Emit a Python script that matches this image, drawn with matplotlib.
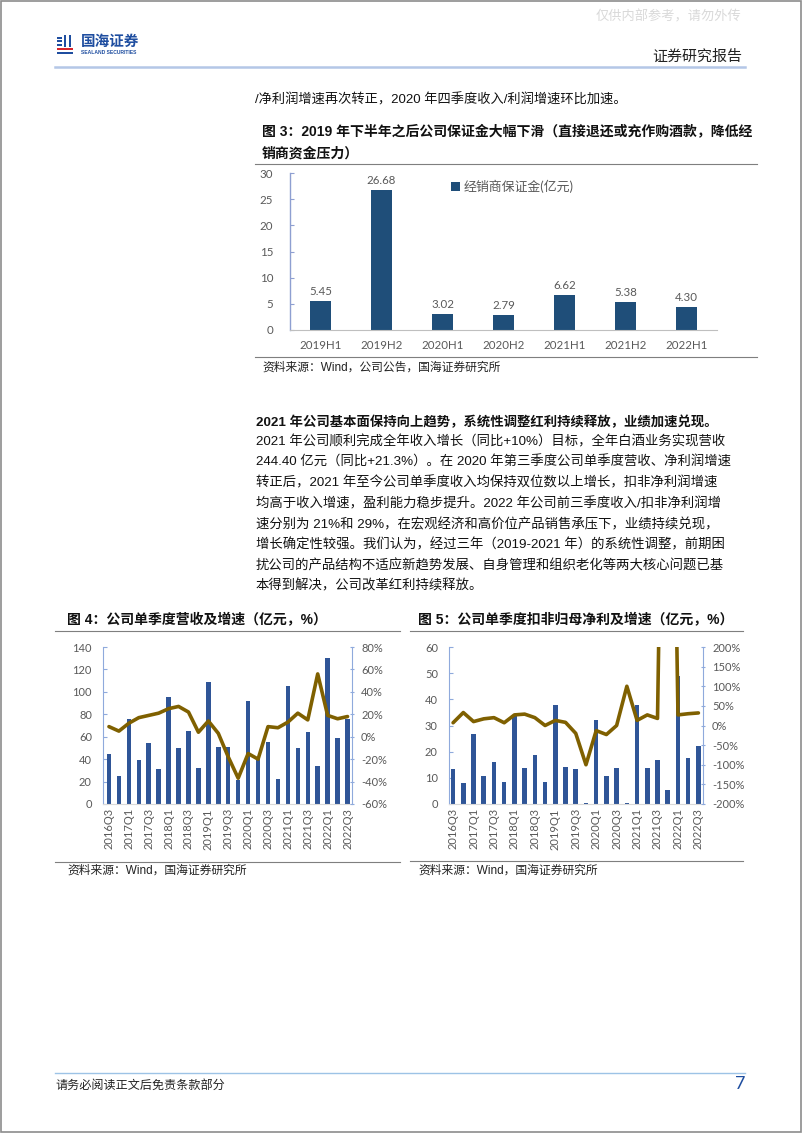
import numpy as np
import matplotlib
matplotlib.use("Agg")
import matplotlib.pyplot as plt
from matplotlib.lines import Line2D
from matplotlib.patches import Rectangle
from matplotlib.ticker import FuncFormatter

# ---------------- 数据 ----------------
# 图3 经销商保证金
half_years = ['2019H1', '2019H2', '2020H1', '2020H2', '2021H1', '2021H2', '2022H1']
deposit = [5.45, 26.68, 3.02, 2.79, 6.62, 5.38, 4.30]

# 图4/图5 季度
quarters = ['2016Q3', '2016Q4',
            '2017Q1', '2017Q2', '2017Q3', '2017Q4',
            '2018Q1', '2018Q2', '2018Q3', '2018Q4',
            '2019Q1', '2019Q2', '2019Q3', '2019Q4',
            '2020Q1', '2020Q2', '2020Q3', '2020Q4',
            '2021Q1', '2021Q2', '2021Q3', '2021Q4',
            '2022Q1', '2022Q2', '2022Q3']

revenue = [45, 25, 76, 39, 54, 31, 95, 50, 65, 32, 109, 51, 51, 21,
           92, 40, 55, 22, 105, 50, 64, 34, 130, 59, 76]
revenue_yoy = [9, 5, 12, 17, 19, 21, 25, 27, 22, 4, 14, 3, -18, -37,
               -15, -20, 9, 8, 13, 21, 15, 56, 19, 16, 18]

profit = [13.3, 8.0, 26.6, 10.8, 16.2, 8.4, 33.5, 13.8, 18.6, 8.4, 38.0, 14.3, 13.5, 0.3,
          32.2, 10.8, 13.8, 0.3, 38.0, 13.8, 17.0, 5.5, 49.0, 17.6, 22.2]
profit_yoy = [7, 33, 10, 17, 20, 7, 27, 29, 20, 0, 13, 8, -20, -100,
              -13, -23, 0, 100, 13, 27, 18, 1700, 27, 30, 32]

body_lines = [
    "2021 年公司顺利完成全年收入增长（同比+10%）目标，全年白酒业务实现营收",
    "244.40 亿元（同比+21.3%）。在 2020 年第三季度公司单季度营收、净利润增速",
    "转正后，2021 年至今公司单季度收入均保持双位数以上增长，扣非净利润增速",
    "均高于收入增速，盈利能力稳步提升。2022 年公司前三季度收入/扣非净利润增",
    "速分别为 21%和 29%，在宏观经济和高价位产品销售承压下，业绩持续兑现，",
    "增长确定性较强。我们认为，经过三年（2019-2021 年）的系统性调整，前期困",
    "扰公司的产品结构不适应新趋势发展、自身管理和组织老化等两大核心问题已基",
    "本得到解决，公司改革红利持续释放。",
]

# ---------------- 样式 ----------------
W, H = 802, 1133
TXT = ['Liberation Sans', 'Noto Sans CJK SC', 'DejaVu Sans']
NUM = ['Lato', 'Noto Sans CJK SC', 'DejaVu Sans']
plt.rcParams['font.family'] = TXT
plt.rcParams['axes.unicode_minus'] = False

BAR3 = '#1F4E79'
BAR = '#2F5597'
LINE = '#7F6000'
SPINE = '#8FAADC'
GRAYTXT = '#595959'

fig = plt.figure(figsize=(W / 100, H / 100), dpi=100)


def T(x, y, s, **kw):
    kw.setdefault('va', 'center')
    kw.setdefault('family', TXT)
    fig.text(x / W, 1 - y / H, s, **kw)


def HL(x0, x1, y, color='#7f7f7f', lw=0.8):
    fig.add_artist(Line2D([x0 / W, x1 / W], [1 - y / H, 1 - y / H],
                          transform=fig.transFigure, color=color, lw=lw))


def box(x0, y0, x1, y1):
    return [x0 / W, 1 - y1 / H, (x1 - x0) / W, (y1 - y0) / H]


# 页面边框
fig.add_artist(Rectangle((0.001, 0.001), 0.998, 0.998, transform=fig.transFigure,
                         fill=False, edgecolor='#8c8c8c', lw=1.2))

# ---------------- 页眉 ----------------
T(668, 17, "仅供内部参考，请勿外传", fontsize=9.5, color='#d9d9d9', ha='center')
# logo 图标
logo_blue = '#1F4EA0'
for yy in (37, 40.5, 44):
    fig.add_artist(Rectangle((57 / W, 1 - (yy + 1.6) / H), 5 / W, 1.6 / H,
                             transform=fig.transFigure, color=logo_blue, lw=0))
for xx in (64, 68.5):
    fig.add_artist(Rectangle((xx / W, 1 - 47 / H), 2 / W, 12 / H,
                             transform=fig.transFigure, color=logo_blue, lw=0))
fig.add_artist(Rectangle((57 / W, 1 - 50 / H), 16 / W, 2 / H,
                         transform=fig.transFigure, color='#D7262D', lw=0))
fig.add_artist(Rectangle((57 / W, 1 - 53.5 / H), 16 / W, 2 / H,
                         transform=fig.transFigure, color=logo_blue, lw=0))
T(81, 42, "国海证券", fontsize=10.5, color=logo_blue, fontweight='bold')
T(81, 53, "SEALAND SECURITIES", fontsize=3.6, color=logo_blue, fontweight='bold')
T(742, 57, "证券研究报告", fontsize=10.8, color='#222222', ha='right')
HL(55, 745, 67, color='#B4C7E7', lw=1.8)

T(255, 100, "/净利润增速再次转正，2020 年四季度收入/利润增速环比加速。", fontsize=9.5, color='#111111')

# ---------------- 图3 ----------------
T(262, 131, "图 3：2019 年下半年之后公司保证金大幅下滑（直接退还或充作购酒款，降低经",
  fontsize=10, fontweight='bold', color='#111111')
T(262, 154, "销商资金压力）", fontsize=10, fontweight='bold', color='#111111')
HL(255, 757, 164)

ax3 = fig.add_axes(box(290, 173, 717, 330))
x3 = np.arange(len(half_years))
ax3.bar(x3, deposit, width=0.33, color=BAR3, label='经销商保证金(亿元)')
for xi, v in zip(x3, deposit):
    ax3.annotate(f"{v:.2f}", (xi, v), xytext=(0, 3), textcoords='offset points',
                 ha='center', va='bottom', fontsize=8.3, color=GRAYTXT, family=NUM)
ax3.set_xlim(-0.5, 6.5)
ax3.set_ylim(0, 30)
ax3.set_yticks(range(0, 31, 5))
ax3.set_xticks(x3)
ax3.set_xticklabels(half_years)
for s in ('top', 'right'):
    ax3.spines[s].set_visible(False)
ax3.spines['left'].set_color('#8E9FD1')
ax3.spines['left'].set_linewidth(1.0)
ax3.spines['bottom'].set_color('#bfbfbf')
ax3.tick_params(axis='x', length=0, pad=7, labelsize=8.3, labelcolor=GRAYTXT)
ax3.tick_params(axis='y', length=3, direction='in', color='#8E9FD1', pad=12,
                labelsize=8.3, labelcolor=GRAYTXT)
for lab in ax3.get_xticklabels() + ax3.get_yticklabels():
    lab.set_family(NUM)
ax3.legend(loc='center left', bbox_to_anchor=(0.35, 0.915), frameon=False,
           handlelength=0.7, handleheight=0.7, handletextpad=0.3,
           prop={'family': NUM, 'size': 9.3}, labelcolor=GRAYTXT)

HL(255, 757, 357)
T(262, 368, "资料来源：Wind，公司公告，国海证券研究所", fontsize=8.5, color='#222222')

# ---------------- 正文 ----------------
T(256, 422, "2021 年公司基本面保持向上趋势，系统性调整红利持续释放，业绩加速兑现。",
  fontsize=9.6, fontweight='bold', color='#111111')
for i, line in enumerate(body_lines):
    T(256, 442 + i * 20.6, line, fontsize=9.6, color='#111111')


# ---------------- 图4 / 图5 ----------------
def quarter_chart(pos, bars, yoy, ylim, yticks, y2lim, y2ticks, xlim):
    ax = fig.add_axes(pos)
    xq = np.arange(len(quarters))
    ax.bar(xq, bars, width=0.45, color=BAR, zorder=2)
    ax.set_xlim(*xlim)
    ax.set_ylim(*ylim)
    ax.set_yticks(yticks)
    ax.set_xticks(xq[::2])
    ax.set_xticklabels(quarters[::2], rotation=90)
    ax.spines['top'].set_visible(False)
    ax.spines['right'].set_visible(False)
    ax.spines['left'].set_color(SPINE)
    ax.spines['bottom'].set_color('#d9d9d9')
    ax.tick_params(axis='x', length=0, pad=3, labelsize=8, labelcolor=GRAYTXT)
    ax.tick_params(axis='y', length=3, direction='in', color=SPINE, pad=8,
                   labelsize=8, labelcolor=GRAYTXT)

    ax2 = ax.twinx()
    ax2.plot(xq, yoy, color=LINE, lw=2.6, solid_joinstyle='round',
             solid_capstyle='round', zorder=3)
    ax2.set_ylim(*y2lim)
    ax2.set_yticks(y2ticks)
    ax2.yaxis.set_major_formatter(FuncFormatter(lambda v, p: f"{v:.0f}%"))
    for s in ('top', 'left', 'bottom'):
        ax2.spines[s].set_visible(False)
    ax2.spines['right'].set_color(SPINE)
    ax2.tick_params(axis='y', length=3, direction='inout', color=SPINE, pad=5,
                    labelsize=8, labelcolor=GRAYTXT)
    for lab in ax.get_xticklabels() + ax.get_yticklabels() + ax2.get_yticklabels():
        lab.set_family(NUM)
    return ax, ax2


T(67, 620, "图 4：公司单季度营收及增速（亿元，%）", fontsize=10, fontweight='bold', color='#111111')
HL(55, 400, 631)
quarter_chart(box(103, 647, 352, 804), revenue, revenue_yoy,
              (0, 140), range(0, 141, 20), (-60, 80), range(-60, 81, 20), (-0.6, 24.45))
HL(55, 400, 862)
T(67, 871, "资料来源：Wind，国海证券研究所", fontsize=8.5, color='#222222')

T(418, 620, "图 5：公司单季度扣非归母净利及增速（亿元，%）", fontsize=10, fontweight='bold', color='#111111')
HL(410, 743, 631)
quarter_chart(box(449, 647, 703, 804), profit, profit_yoy,
              (0, 60), range(0, 61, 10), (-200, 200), range(-200, 201, 50), (-0.4, 24.45))
HL(410, 743, 861)
T(418, 871, "资料来源：Wind，国海证券研究所", fontsize=8.5, color='#222222')

# ---------------- 页脚 ----------------
HL(55, 745, 1073, color='#9DC3E6', lw=1.0)
T(55, 1086, "请务必阅读正文后免责条款部分", fontsize=8.7, color='#222222')
T(745, 1084, "7", fontsize=13, color='#1F4EA0', ha='right', family=NUM)

fig.savefig("out.png", dpi=100, facecolor='white')
